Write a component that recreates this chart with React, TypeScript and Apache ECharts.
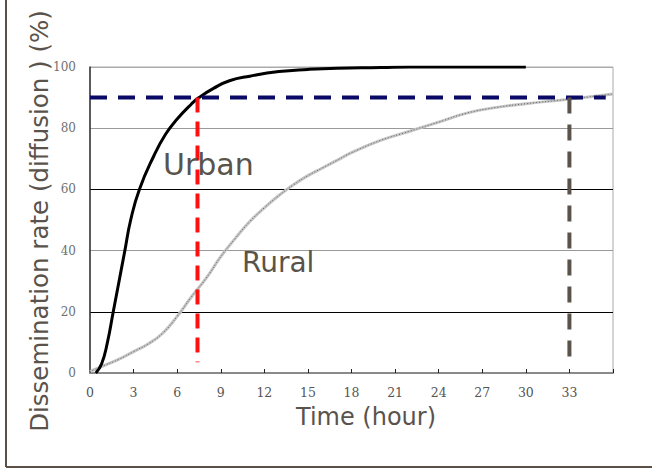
import React, { useEffect, useRef } from "react";
import * as echarts from "echarts";

const xTicks = [0, 3, 6, 9, 12, 15, 18, 21, 24, 27, 30, 33, 36];
const yTicks = [0, 20, 40, 60, 80, 100];

const urbanHours = [0.4, 0.8, 1.2, 1.6, 2.0, 2.4, 2.8, 3.4, 4.4, 5.2, 6.0, 7.0, 7.5, 8.5, 9.6, 11, 13, 15, 17, 20, 22, 30];
const urbanRate = [0, 3, 10, 20, 30, 40, 50, 60, 71, 78, 83, 88, 90, 93, 95.5, 97, 98.5, 99.2, 99.6, 99.8, 100, 100];

const ruralHours = [0, 1, 2, 3, 4, 5, 6, 7, 8, 9, 10, 11, 12, 13, 14, 15, 16, 17, 18, 20, 22, 24, 26, 28, 30, 33, 36];
const ruralRate = [0.5, 2.5, 4.5, 7, 9.5, 13, 18.5, 25, 31, 38, 44, 49.5, 54, 58, 61.5, 64.5, 67, 69.5, 72, 76, 79, 82, 85, 86.8, 88, 89.5, 91.2];

const targetRate = 90;
const targetLineEnd = 35.5;
const urbanReachHour = 7.4;
const ruralReachHour = 33;
const dropEnd = 3.5;

const labelUrban = "Urban";
const labelRural = "Rural";
const xTitle = "Time (hour)";
const yTitle = "Dissemination rate (diffusion ) (%)";

const textColor = "#5a534c";
const titleFont = "'DejaVu Sans', sans-serif";

export default function App() {
  const ref = useRef<HTMLDivElement>(null);
  useEffect(() => {
    if (!ref.current) return;
    const chart = echarts.init(ref.current, null, { renderer: "svg" });
    const zip = (a: number[], b: number[]) => a.map((v, i) => [v, b[i]]);
    chart.setOption({
      animation: false,
      backgroundColor: "#ffffff",
      grid: {
        left: 90,
        right: 39,
        top: 67,
        bottom: 96,
        show: true,
        borderColor: "#aaaaaa",
        borderWidth: 1,
      },
      xAxis: {
        type: "value",
        min: xTicks[0],
        max: xTicks[xTicks.length - 1],
        interval: 3,
        axisLine: { show: true, lineStyle: { color: "#8a8a8a", width: 2 } },
        axisTick: { show: true, inside: true, length: 4, lineStyle: { color: "#222", width: 1 } },
        axisLabel: {
          margin: 13,
          color: "#555",
          fontFamily: "'DejaVu Serif', serif",
          fontSize: 12.5,
          formatter: (v: number) => (v === xTicks[xTicks.length - 1] ? "" : String(v)),
        },
        splitLine: { show: false },
      },
      yAxis: {
        type: "value",
        min: yTicks[0],
        max: yTicks[yTicks.length - 1],
        interval: 20,
        axisLine: { show: true, lineStyle: { color: "#333", width: 1.5 } },
        axisTick: { show: false },
        axisLabel: {
          margin: 14,
          color: "#707070",
          fontFamily: "'DejaVu Serif', serif",
          fontSize: 12,
        },
        splitLine: {
          show: true,
          lineStyle: { color: ["#888", "#000", "#999", "#000", "#999", "#aaa"], width: 1.2 },
        },
      },
      series: [
        {
          type: "line",
          data: zip(ruralHours, ruralRate),
          smooth: 0.5,
          symbol: "none",
          lineStyle: { color: "#c4c4c4", width: 3 },
          z: 2,
        },
        {
          type: "line",
          data: zip(ruralHours, ruralRate),
          smooth: 0.5,
          symbol: "none",
          lineStyle: { color: "#666", width: 1, type: [1, 2] },
          z: 3,
        },
        {
          type: "line",
          data: zip(urbanHours, urbanRate),
          smooth: 0.5,
          symbol: "none",
          lineStyle: { color: "#000", width: 3 },
          z: 4,
        },
        {
          type: "line",
          data: [[0, targetRate], [targetLineEnd, targetRate]],
          symbol: "none",
          lineStyle: { color: "#0a0a66", width: 4, type: [17, 11] },
          z: 5,
        },
        {
          type: "line",
          data: [[urbanReachHour, targetRate], [urbanReachHour, dropEnd]],
          symbol: "none",
          lineStyle: { color: "#ff1010", width: 4, type: [15, 9] },
          z: 6,
        },
        {
          type: "line",
          data: [[ruralReachHour, targetRate], [ruralReachHour, dropEnd]],
          symbol: "none",
          lineStyle: { color: "#5a534c", width: 4, type: [16, 11] },
          z: 6,
        },
      ],
      graphic: [
        {
          type: "line",
          shape: { x1: 6, y1: 0, x2: 6, y2: 467 },
          style: { stroke: "#5a5048", lineWidth: 2 },
        },
        {
          type: "line",
          shape: { x1: 6, y1: 467, x2: 652, y2: 467 },
          style: { stroke: "#5a5048", lineWidth: 2 },
        },
        {
          type: "text",
          x: 163,
          y: 164,
          z: 10,
          style: {
            text: labelUrban,
            fill: textColor,
            font: `30px ${titleFont}`,
            textAlign: "left",
            textVerticalAlign: "middle",
          },
        },
        {
          type: "text",
          x: 242,
          y: 262,
          z: 10,
          style: {
            text: labelRural,
            fill: textColor,
            font: `28px ${titleFont}`,
            textAlign: "left",
            textVerticalAlign: "middle",
          },
        },
        {
          type: "text",
          x: 366,
          y: 417,
          style: {
            text: xTitle,
            fill: textColor,
            font: `24px ${titleFont}`,
            textAlign: "center",
            textVerticalAlign: "middle",
          },
        },
        {
          type: "text",
          x: 39,
          y: 221,
          rotation: Math.PI / 2,
          style: {
            text: yTitle,
            fill: textColor,
            font: `24.5px ${titleFont}`,
            textAlign: "center",
            textVerticalAlign: "middle",
          },
        },
      ],
    });
    return () => chart.dispose();
  }, []);
  return (
    <div
      ref={ref}
      style={{ position: "fixed", left: 0, top: 0, width: 652, height: 469 }}
    />
  );
}
